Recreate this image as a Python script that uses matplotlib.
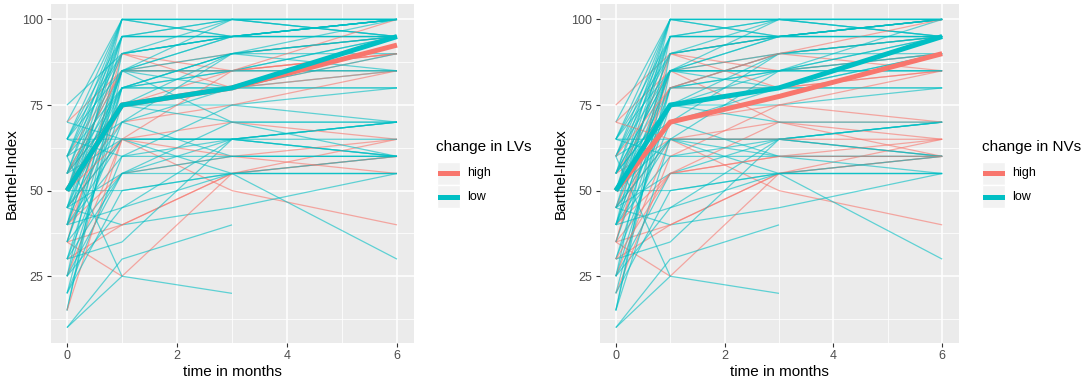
import numpy as np
import matplotlib as mpl
import matplotlib.pyplot as plt
from matplotlib.lines import Line2D
from matplotlib.patches import Rectangle

nan = np.nan
months = [0, 1, 3, 6]

# Barthel-Index per patient at 0, 1, 3, 6 months
bi_t0 = [75, 70, 70, 65, 65, 65, 65, 60, 60, 60, 60, 55, 55, 55, 55, 55, 50, 50, 50, 50,
         50, 50, 45, 45, 45, 45, 45, 45, 40, 40, 40, 40, 40, 40, 35, 35, 35, 35, 35, 30,
         30, 30, 30, 25, 25, 25, 25, 25, 20, 20, 15, 15, 15, 10, 10, 60, 65, 70, 60, 55,
         50, 45, 40, 50, 35, 60, 55, 45, 30, 65, 50, 40, 55, 20, 50]
bi_t1 = [90, 100, 85, 100, 95, 90, 65, 100, 95, 85, 90, 100, 85, 80, 75, 65, 100, 90, 80, 75,
         50, 70, 95, 85, 80, 65, 40, 55, 100, 85, 75, 60, 55, 65, 90, 85, 40, 25, 55, 80,
         70, 40, 35, 95, 75, 65, 45, 55, 80, 60, 90, 85, 65, 25, 30, 25, 60, 65, 70, 85,
         95, 70, 85, 65, 80, 80, 75, 65, 55, 85, 90, 45, 95, 50, 85]
bi_t3 = [95, 100, 90, 100, 100, 95, 65, 95, 95, 85, 100, 100, 90, 80, 85, 65, 95, 85, 80, 75,
         55, 75, 100, 95, 90, 50, 45, 65, 100, 85, 80, 65, 60, 55, 80, 70, 55, 55, 70, 85,
         60, 55, 65, 95, 90, 70, 65, 55, 85, 75, 95, 80, 60, 20, 40, nan, 60, 65, 80, 85,
         95, 90, 100, 85, 90, 90, 70, 65, 60, 95, 95, 55, 95, 55, 85]
bi_t6 = [100, 100, 95, 95, 100, 95, 70, 100, 95, 85, 95, 100, 95, 85, 90, 60, 100, 90, 80, 80,
         55, 85, 95, 100, 85, 40, 55, 70, 100, 95, 90, 60, 65, 30, 85, 70, 60, 65, 60, 95,
         60, 60, 70, 95, 90, 65, 70, 60, 85, 70, 100, 80, 55, nan, nan, nan, 60, 65, 90, 90,
         100, 95, 100, 100, 95, 100, 70, 60, 60, 100, 95, 55, 100, 55, 85]

# group of each patient (1 = high, 0 = low)
lv_high = [0, 0, 1, 0, 0, 0, 0, 0, 0, 1, 0, 0, 0, 0, 1, 0, 0, 1, 0, 0,
           0, 1, 0, 0, 0, 1, 0, 0, 0, 0, 1, 0, 1, 0, 1, 0, 1, 1, 0, 0,
           0, 1, 0, 0, 0, 1, 0, 0, 0, 0, 0, 0, 1, 0, 0, 0, 0, 0, 0, 1,
           0, 0, 0, 1, 0, 0, 0, 0, 0, 0, 0, 0, 0, 0, 0]
nv_high = [1, 0, 1, 0, 0, 0, 0, 0, 0, 0, 0, 0, 0, 1, 0, 1, 0, 1, 0, 0,
           0, 1, 0, 0, 1, 1, 0, 0, 0, 0, 0, 0, 1, 0, 1, 1, 1, 1, 1, 0,
           0, 1, 0, 0, 0, 1, 0, 0, 0, 1, 0, 0, 0, 0, 0, 0, 0, 1, 0, 0,
           0, 0, 0, 0, 0, 1, 0, 0, 1, 0, 0, 0, 0, 0, 0]

# group summary lines
lv_high_mid = [50, 75, 80, 92.5]
lv_low_mid = [50, 75, 80, 95]
nv_high_mid = [50, 70, 77.5, 90]
nv_low_mid = [50, 75, 80, 95]

RED = '#F8766D'
CYAN = '#00BFC4'

mpl.rcParams['font.family'] = ['Liberation Sans', 'DejaVu Sans']

dpi = 100
fig = plt.figure(dpi=dpi, figsize=(1084 / dpi, 382 / dpi))

traj = np.array([bi_t0, bi_t1, bi_t3, bi_t6], dtype=float).T


def panel(ax, groups, high_mid, low_mid, title):
    ax.set_facecolor('#EBEBEB')
    for s in ax.spines.values():
        s.set_visible(False)
    ax.set_xlim(-0.3, 6.3)
    ax.set_ylim(5.5, 104.5)
    ax.set_xticks([0, 2, 4, 6])
    ax.set_xticks([1, 3, 5], minor=True)
    ax.set_yticks([25, 50, 75, 100])
    ax.set_yticks([12.5, 37.5, 62.5, 87.5], minor=True)
    ax.grid(which='major', color='white', lw=1.1)
    ax.grid(which='minor', color='white', lw=0.55)
    ax.set_axisbelow(True)
    ax.tick_params(which='major', length=3, color='#333333', labelcolor='#4D4D4D',
                   labelsize=9, pad=2)
    ax.tick_params(which='minor', length=0)
    for row, g in zip(traj, groups):
        ok = ~np.isnan(row)
        ax.plot(np.array(months)[ok], row[ok], color=RED if g else CYAN,
                lw=0.9, alpha=0.6, solid_capstyle='butt')
    ax.plot(months, high_mid, color=RED, lw=3.6, solid_capstyle='butt')
    ax.plot(months, low_mid, color=CYAN, lw=3.6, solid_capstyle='butt')
    ax.set_xlabel('time in months', fontsize=11, labelpad=2)
    ax.set_ylabel('Barthel-Index', fontsize=11, labelpad=3)

    # legend drawn at the right of the panel
    pos = ax.get_position()
    x0 = pos.x1 + 23 / 1084
    fig.text(x0, 1 - 147 / 382, title, fontsize=11, va='center', ha='left')
    for i, (lab, col) in enumerate([('high', RED), ('low', CYAN)]):
        yc = 1 - (173 + 24 * i) / 382
        fig.add_artist(Rectangle((x0, yc - 11.5 / 382), 23 / 1084, 23 / 382,
                                 transform=fig.transFigure, facecolor='#F2F2F2',
                                 edgecolor='white', lw=1))
        fig.add_artist(Line2D([x0 + 3 / 1084, x0 + 20 / 1084], [yc, yc],
                              transform=fig.transFigure, color=col, lw=3.6))
        fig.text(x0 + 31 / 1084, yc, lab, fontsize=9, va='center', ha='left')


ax1 = fig.add_axes([50.5 / 1084, 1 - 343 / 382, 363 / 1084, 339 / 382])
ax2 = fig.add_axes([599.5 / 1084, 1 - 343 / 382, 359 / 1084, 339 / 382])
panel(ax1, lv_high, lv_high_mid, lv_low_mid, 'change in LVs')
panel(ax2, nv_high, nv_high_mid, nv_low_mid, 'change in NVs')

fig.savefig('out.png', dpi=dpi)
